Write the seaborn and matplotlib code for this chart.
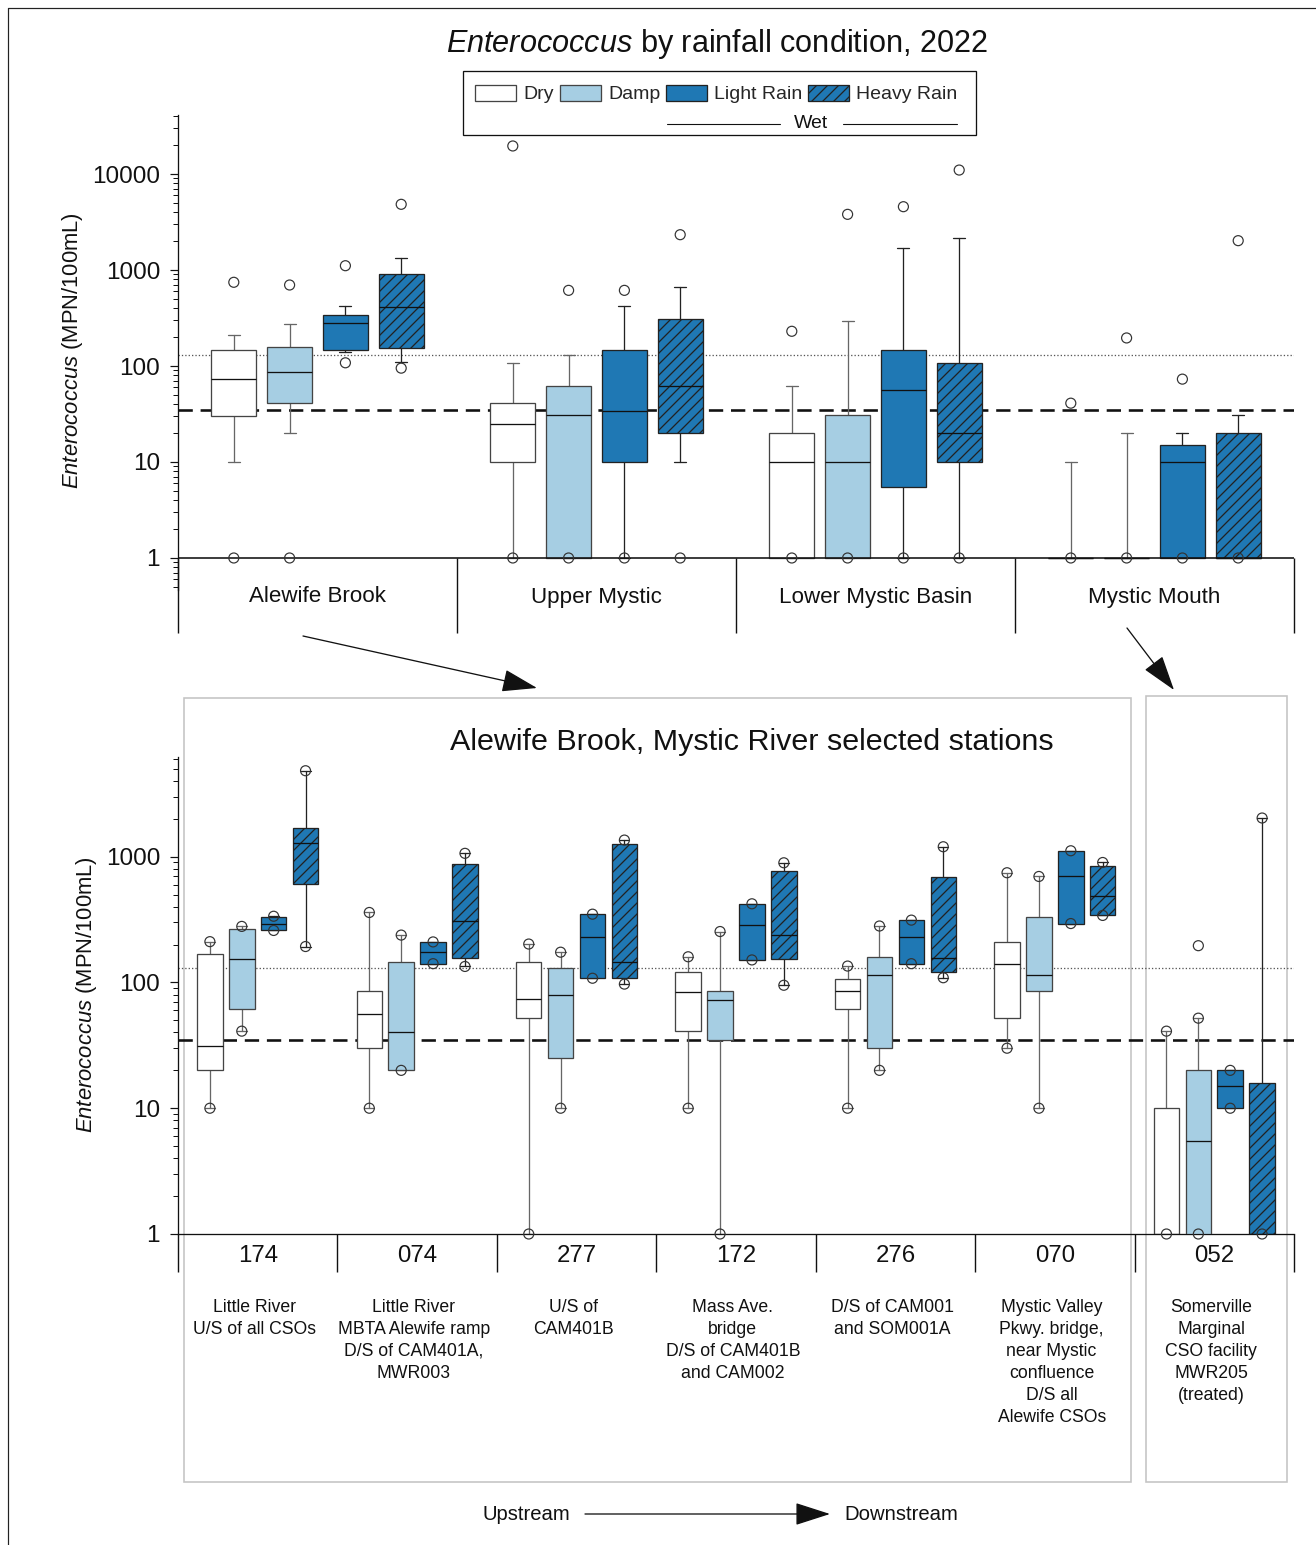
import numpy as np
import pandas as pd
import matplotlib
matplotlib.use("Agg")
import matplotlib.pyplot as plt
import seaborn as sns
from matplotlib.patches import Patch, Rectangle
from matplotlib.lines import Line2D
from matplotlib.ticker import FixedLocator, LogLocator, FuncFormatter, NullFormatter

# ---------------- data ----------------
conditions = ["Dry", "Damp", "Light Rain", "Heavy Rain"]

regions = ["Alewife Brook", "Upper Mystic", "Lower Mystic Basin", "Mystic Mouth"]
# rows = regions, cols = conditions
region_whislo = [[10, 20, 141, 109], [1, 1, 1, 10], [1, 1, 1, 1], [1, 1, 1, 1]]
region_q1 = [[30, 41, 147, 153], [10, 1, 10, 20], [1, 1, 5.5, 10], [1, 1, 1, 1]]
region_med = [[74, 86, 281, 412], [25, 31, 34, 62], [10, 10, 56, 20], [1, 1, 10, 1]]
region_q3 = [[146, 159, 340, 902], [41, 62, 147, 306], [20, 31, 146, 108], [1, 1, 15, 20]]
region_whishi = [[210, 276, 425, 1324], [108, 130, 425, 670], [62, 296, 1695, 2154], [10, 20, 20, 31]]
region_fliers = [
    [[745, 1], [698, 1], [1109, 108], [4836, 95]],
    [[19600, 1], [614, 1], [614, 1], [2333, 1]],
    [[230, 1], [3802, 1], [4567, 1], [11000, 1]],
    [[41, 1], [196, 1], [73, 1], [2022, 1]],
]

stations = ["174", "074", "277", "172", "276", "070", "052"]
station_desc = [
    "Little River\nU/S of all CSOs",
    "Little River\nMBTA Alewife ramp\nD/S of CAM401A,\nMWR003",
    "U/S of\nCAM401B",
    "Mass Ave.\nbridge\nD/S of CAM401B\nand CAM002",
    "D/S of CAM001\nand SOM001A",
    "Mystic Valley\nPkwy. bridge,\nnear Mystic\nconfluence\nD/S all\nAlewife CSOs",
    "Somerville\nMarginal\nCSO facility\nMWR205\n(treated)",
]
station_whislo = [[10, 41, 259, 193], [10, 20, 141, 134], [1, 10, 108, 97], [10, 1, 151, 95],
                  [10, 20, 141, 109], [30, 10, 294, 341], [1, 1, 10, 1]]
station_q1 = [[20, 62, 259, 601], [30, 20, 141, 156], [52, 25, 108, 108], [41, 35, 151, 153],
              [62, 30, 141, 121], [52, 85, 294, 341], [1, 1, 10, 1]]
station_med = [[31, 155, 294, 1291], [56, 40, 174, 308], [74, 79, 228, 145], [84, 73, 287, 238],
               [85, 114, 228, 156], [141, 114, 701, 483], [1, 5.5, 15, 1]]
station_q3 = [[169, 264, 333, 1687], [85, 146, 210, 873], [145, 131, 349, 1259], [120, 85, 422, 763],
              [107, 158, 313, 692], [209, 329, 1114, 847], [10, 20, 20, 16]]
station_whishi = [[211, 279, 336, 4822], [360, 238, 210, 1063], [202, 174, 349, 1355], [160, 254, 422, 894],
                  [135, 281, 313, 1199], [745, 696, 1114, 899], [41, 52, 20, 2029]]
station_fliers = [[[], [], [], []]] * 6 + [[[], [196], [], []]]

geo_mean_std = 35
single_sample_std = 130

top_ticks = [1, 10, 100, 1000, 10000]
bottom_ticks = [1, 10, 100, 1000]

# ---------------- style ----------------
W, H, DPI = 1316, 1545, 132


def pt(px):
    return px * 72.0 / DPI


def fx(x):
    return x / W


def fy(y):
    return 1 - y / H


sns.set_theme(style="ticks")
plt.rcParams["font.family"] = ["Liberation Sans", "DejaVu Sans"]
plt.rcParams["mathtext.fontset"] = "custom"
plt.rcParams["mathtext.rm"] = "Liberation Sans"
plt.rcParams["mathtext.it"] = "Liberation Sans:italic"
plt.rcParams["hatch.linewidth"] = 0.7
plt.rcParams["axes.edgecolor"] = "#111111"

fills = ["white", "#a6cee3", "#1f78b4", "#1f78b4"]
hatches = [None, None, None, "////"]
edges = ["#444444", "#444444", "#222222", "#222222"]
wcols = ["#666666", "#666666", "#222222", "#222222"]
offsets = [-0.3, -0.1, 0.1, 0.3]
BOX_W = 0.16
LW = pt(1.3)

fig = plt.figure(figsize=(W / DPI, H / DPI), dpi=DPI)
fig.patch.set_facecolor("white")

ax_top = fig.add_axes([fx(178), fy(590), (1294 - 178) / W, (590 - 115) / H])
ax_bot = fig.add_axes([fx(178), fy(1234), (1294 - 178) / W, (1234 - 757) / H])


def draw_panel(ax, whislo, q1, med, q3, whishi, fliers, capw, end_markers):
    ax.set_yscale("log")
    ngroups = len(whislo)
    pts_x, pts_y = [], []
    for c in range(len(conditions)):
        stats, pos = [], []
        for g in range(ngroups):
            stats.append(dict(whislo=whislo[g][c], q1=q1[g][c], med=med[g][c],
                              q3=q3[g][c], whishi=whishi[g][c], fliers=[]))
            pos.append(g + offsets[c])
            for v in fliers[g][c]:
                pts_x.append(g + offsets[c])
                pts_y.append(v)
            if end_markers:
                pts_x += [g + offsets[c], g + offsets[c]]
                pts_y += [whislo[g][c], whishi[g][c]]
        ax.bxp(stats, positions=pos, widths=BOX_W, capwidths=capw, patch_artist=True,
               showfliers=False, manage_ticks=False,
               boxprops=dict(facecolor=fills[c], edgecolor=edges[c], linewidth=LW,
                             hatch=hatches[c], zorder=3),
               medianprops=dict(color="#111111", linewidth=LW, zorder=4),
               whiskerprops=dict(color=wcols[c], linewidth=LW, zorder=2.5),
               capprops=dict(color=wcols[c], linewidth=LW, zorder=2.5))
    df = pd.DataFrame({"x": pts_x, "y": pts_y})
    sns.scatterplot(data=df, x="x", y="y", ax=ax, marker="o", s=pt(10) ** 2,
                    facecolors="none", edgecolor="#333333", linewidth=pt(1.2),
                    zorder=6, legend=False, clip_on=False)
    ax.axhline(geo_mean_std, color="#111111", lw=pt(2.6), ls=(0, (5.5, 3)), zorder=1)
    ax.axhline(single_sample_std, color="#555555", lw=pt(1.3), ls=(0, (1, 1.6)), zorder=1)
    ax.set_xlim(-0.5, ngroups - 0.5)
    ax.set_xticks([])
    ax.set_xlabel("")
    ax.set_ylabel("")
    ax.spines["top"].set_visible(False)
    ax.spines["right"].set_visible(False)
    for s in ax.spines.values():
        s.set_linewidth(pt(1.3))
    ax.yaxis.set_minor_locator(LogLocator(base=10, subs=np.arange(2, 10), numticks=30))
    ax.yaxis.set_minor_formatter(NullFormatter())
    ax.yaxis.set_major_formatter(FuncFormatter(lambda v, p: f"{v:g}"))
    ax.tick_params(axis="y", which="major", length=pt(8), width=pt(1.2), pad=pt(10),
                   labelsize=pt(24.3), colors="#111111")
    ax.tick_params(axis="y", which="minor", length=pt(5), width=pt(1.0), colors="#111111")
    ax.set_facecolor("none")


# ---- top panel ----
draw_panel(ax_top, region_whislo, region_q1, region_med, region_q3, region_whishi,
           region_fliers, 0.043, False)
ax_top.set_ylim(0.464, 41200)
ax_top.yaxis.set_major_locator(FixedLocator(top_ticks))
ax_top.spines["bottom"].set_visible(False)
ax_top.axhline(1, color="#111111", lw=pt(1.6), zorder=5)
xtr = ax_top.get_xaxis_transform()
y1 = (590 - 558) / 475
ax_top.vlines(np.arange(len(regions) + 1) - 0.5, (590 - 633) / 475, y1, transform=xtr,
              colors="#111111", lw=pt(1.4), clip_on=False)
for i, r in enumerate(regions):
    ax_top.text(i, (590 - 597) / 475, r, transform=xtr, ha="center", va="center",
                fontsize=pt(22.4), color="#111111")

# ---- bottom panel ----
draw_panel(ax_bot, station_whislo, station_q1, station_med, station_q3, station_whishi,
           station_fliers, 0.063, True)
ax_bot.set_ylim(1, 6200)
ax_bot.yaxis.set_major_locator(FixedLocator(bottom_ticks))
xtr2 = ax_bot.get_xaxis_transform()
ax_bot.vlines(np.arange(len(stations) + 1) - 0.5, (1234 - 1272) / 477, 0, transform=xtr2,
              colors="#111111", lw=pt(1.4), clip_on=False)
for i, s in enumerate(stations):
    ax_bot.text(i, (1234 - 1256) / 477, s, transform=xtr2, ha="center", va="center",
                fontsize=pt(24), color="#111111")
    ax_bot.text(i - 0.02, (1234 - 1299) / 477, station_desc[i], transform=xtr2, ha="center",
                va="top", fontsize=pt(17.6), linespacing=1.38, color="#111111")

# ---- titles and labels ----
fig.text(fx(717), fy(44), r"$\it{Enterococcus}$ by rainfall condition, 2022",
         ha="center", va="center", fontsize=pt(30.7), color="#111111")
fig.text(fx(752), fy(742), "Alewife Brook, Mystic River selected stations",
         ha="center", va="center", fontsize=pt(30.5), color="#111111")
ylab = r"$\it{Enterococcus}$ (MPN/100mL)"
fig.text(fx(73), fy(351), ylab, rotation=90, ha="center", va="center",
         fontsize=pt(22), color="#111111")
fig.text(fx(87), fy(995), ylab, rotation=90, ha="center", va="center",
         fontsize=pt(22), color="#111111")

# ---- legend ----
handles = [Patch(facecolor=fills[i], edgecolor=edges[i], linewidth=LW, hatch=hatches[i])
           for i in range(4)]
fs_leg = 19.5
fig.legend(handles, conditions, loc="center", bbox_to_anchor=(fx(716.5), fy(94)), ncol=4,
           frameon=False, fontsize=pt(fs_leg), handlelength=41 / fs_leg,
           handleheight=18 / fs_leg, handletextpad=7 / fs_leg, columnspacing=6 / fs_leg,
           borderpad=0, borderaxespad=0)
fig.add_artist(Rectangle((fx(463), fy(135)), (976 - 463) / W, (135 - 71) / H,
                         transform=fig.transFigure, fill=False, edgecolor="#111111",
                         lw=pt(1.3)))
fig.add_artist(Line2D([fx(667), fx(780)], [fy(124), fy(124)], transform=fig.transFigure,
                      color="#111111", lw=pt(1.1)))
fig.add_artist(Line2D([fx(843), fx(957)], [fy(124), fy(124)], transform=fig.transFigure,
                      color="#111111", lw=pt(1.1)))
fig.text(fx(811), fy(124), "Wet", ha="center", va="center", fontsize=pt(fs_leg),
         color="#111111")

# ---- frames ----
fig.add_artist(Rectangle((fx(184), fy(1482)), (1131 - 184) / W, (1482 - 698) / H,
                         transform=fig.transFigure, fill=False, edgecolor="#c4c4c4",
                         lw=pt(1.6), zorder=0))
fig.add_artist(Rectangle((fx(1146), fy(1482)), (1287 - 1146) / W, (1482 - 696) / H,
                         transform=fig.transFigure, fill=False, edgecolor="#c4c4c4",
                         lw=pt(1.6), zorder=0))
fig.add_artist(Line2D([fx(8), fx(8)], [fy(8), fy(1545)], transform=fig.transFigure,
                      color="#222222", lw=pt(1.2)))
fig.add_artist(Line2D([fx(8), fx(1316)], [fy(8), fy(8)], transform=fig.transFigure,
                      color="#222222", lw=pt(1.2)))

# ---- arrows ----
arrow_kw = dict(arrowstyle="-|>,head_length=1.4,head_width=0.45", color="#111111",
                lw=pt(1.3), shrinkA=0, shrinkB=0, mutation_scale=pt(22))
fig.add_artist(matplotlib.patches.FancyArrowPatch((fx(303), fy(636)), (fx(537), fy(688)),
                                                  transform=fig.transFigure, **arrow_kw))
fig.add_artist(matplotlib.patches.FancyArrowPatch((fx(1127), fy(628)), (fx(1174), fy(690)),
                                                  transform=fig.transFigure, **arrow_kw))
fig.add_artist(matplotlib.patches.FancyArrowPatch((fx(585), fy(1514)), (fx(830), fy(1514)),
                                                  transform=fig.transFigure, **arrow_kw))
fig.text(fx(526), fy(1514), "Upstream", ha="center", va="center", fontsize=pt(20.3),
         color="#111111")
fig.text(fx(901), fy(1514), "Downstream", ha="center", va="center", fontsize=pt(20.3),
         color="#111111")

fig.savefig("out.png", dpi=DPI, facecolor="white")
